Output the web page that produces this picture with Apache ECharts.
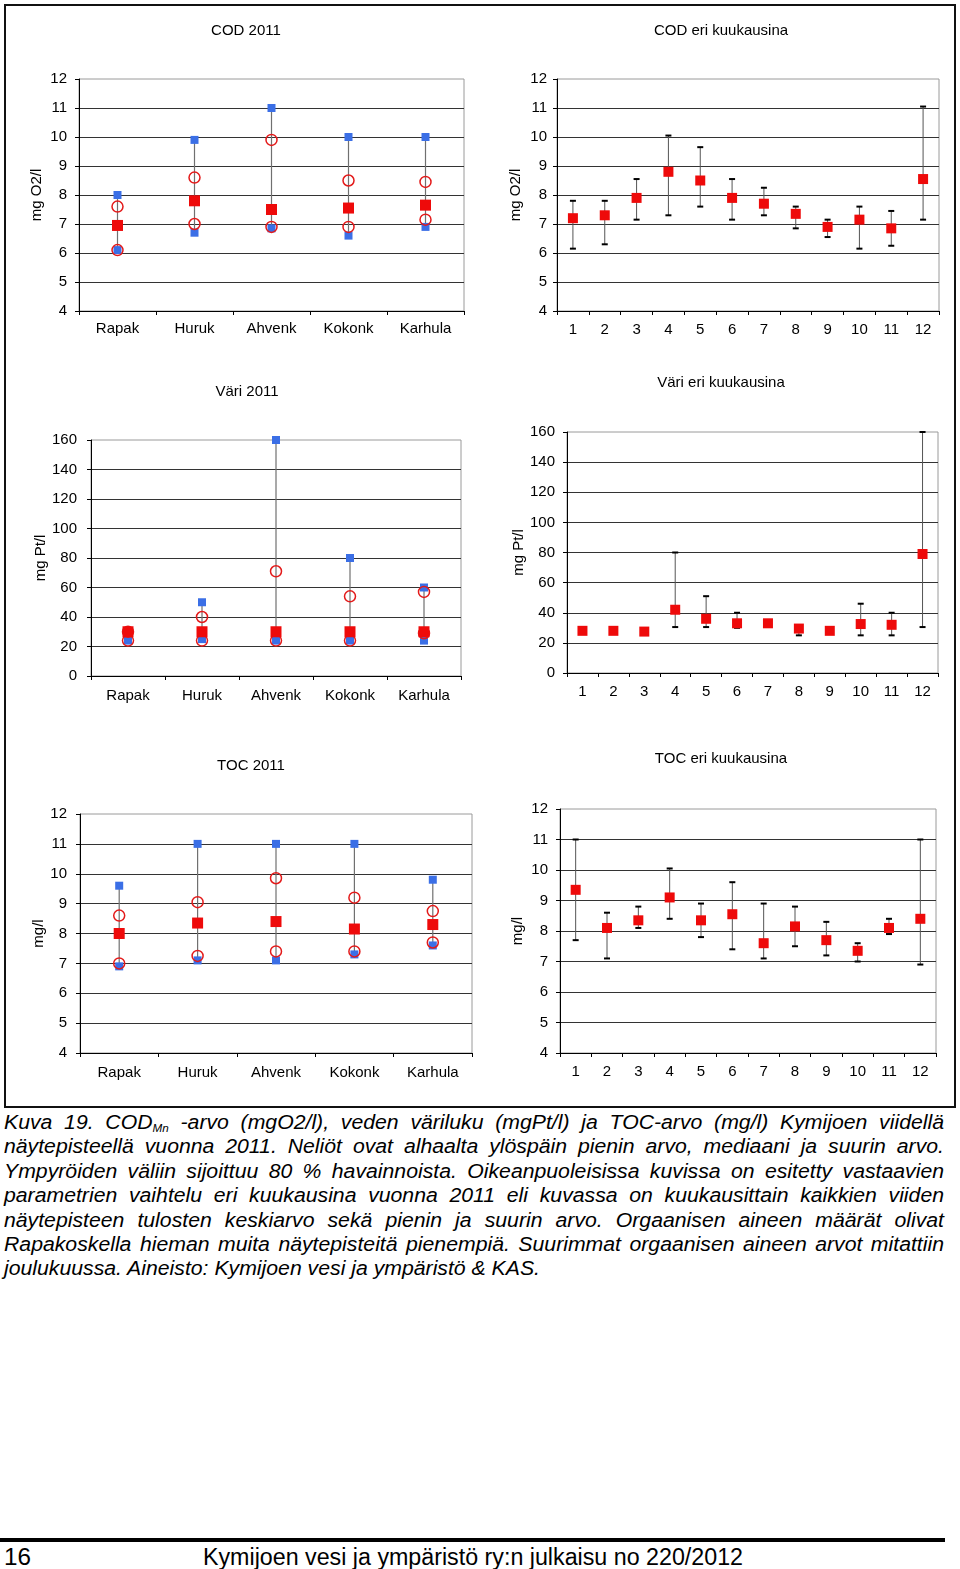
<!DOCTYPE html>
<html>
<head>
<meta charset="utf-8">
<script src="https://cdn.jsdelivr.net/npm/echarts@6/dist/echarts.min.js"></script>
<style>
  html, body { margin:0; padding:0; background:#fff; }
  body { width:960px; height:1569px; position:relative; overflow:hidden; }
  #frame { position:absolute; left:4px; top:4px; width:952px; height:1104px; border:2px solid #111; box-sizing:border-box; }
  #chart { position:absolute; left:0; top:0; width:960px; height:1110px; }
  .cap { position:absolute; left:4px; white-space:nowrap; font-family:'Liberation Sans', Arial, sans-serif; font-style:italic; font-size:20px; color:#000; transform-origin:0 50%; line-height:24px; }
  .cap sub { font-size:11px; vertical-align:-3px; }
  #rule { position:absolute; left:0; top:1538px; width:945px; height:4px; background:#000; }
  .foot { position:absolute; white-space:nowrap; font-family:'Liberation Sans', Arial, sans-serif; font-size:23px; color:#000; transform-origin:0 50%; line-height:28px; }
</style>
</head>
<body>
<div id="frame"></div>
<div id="chart"></div>
<div id="caption"></div>
<div id="rule"></div>
<div class="foot" id="pg" style="left:4px; top:1543px;">16</div>
<div class="foot" id="ft" style="left:203px; top:1543px;">Kymijoen vesi ja ympäristö ry:n julkaisu no 220/2012</div>
<script>
// ---------------- DATA ----------------
const stations = ['Rapak', 'Huruk', 'Ahvenk', 'Kokonk', 'Karhula'];
const months = ['1','2','3','4','5','6','7','8','9','10','11','12'];

// COD 2011 by station (mg O2/l)
const codMin    = [6.1, 6.7, 6.85, 6.6, 6.9];
const codP10    = [6.1, 7.0, 6.9, 6.9, 7.15];
const codMedian = [6.95, 7.8, 7.5, 7.55, 7.65];
const codP90    = [7.6, 8.6, 9.9, 8.5, 8.45];
const codMax    = [8.0, 9.9, 11.0, 10.0, 10.0];

// COD by month
const codMonthMean = [7.2, 7.3, 7.9, 8.8, 8.5, 7.9, 7.7, 7.35, 6.9, 7.15, 6.85, 8.55];
const codMonthMin  = [6.15, 6.3, 7.15, 7.3, 7.6, 7.15, 7.3, 6.85, 6.55, 6.15, 6.25, 7.15];
const codMonthMax  = [7.8, 7.8, 8.55, 10.05, 9.65, 8.55, 8.25, 7.6, 7.15, 7.6, 7.45, 11.05];

// Väri 2011 by station (mg Pt/l)
const variMin    = [24, 25, 24, 24, 24];
const variP10    = [24, 24, 24, 24, 29];
const variMedian = [30, 30, 30, 30, 30];
const variP90    = [30, 40, 71, 54, 57];
const variMax    = [30, 50, 160, 80, 60];

// Väri by month
const variMonthMean = [28, 28, 27.5, 42, 36, 33, 33, 29.5, 28, 32.5, 32, 79];
const variMonthMin  = [27, 27, 27, 30.5, 30.5, 30, 31, 25, 27, 25, 25, 30.5];
const variMonthMax  = [29, 29, 28, 80, 51, 40, 35, 31, 29, 46, 40, 160];

// TOC 2011 by station (mg/l)
const tocMin    = [6.9, 7.1, 7.1, 7.3, 7.6];
const tocP10    = [7.0, 7.25, 7.4, 7.4, 7.7];
const tocMedian = [8.0, 8.35, 8.4, 8.15, 8.3];
const tocP90    = [8.6, 9.05, 9.85, 9.2, 8.75];
const tocMax    = [9.6, 11.0, 11.0, 11.0, 9.8];

// TOC by month
const tocMonthMean = [9.35, 8.1, 8.35, 9.1, 8.35, 8.55, 7.6, 8.15, 7.7, 7.35, 8.1, 8.4];
const tocMonthMin  = [7.7, 7.1, 8.1, 8.4, 7.8, 7.4, 7.1, 7.5, 7.2, 7.0, 7.9, 6.9];
const tocMonthMax  = [11.0, 8.6, 8.8, 10.05, 8.9, 9.6, 8.9, 8.8, 8.3, 7.6, 8.4, 11.0];

const titles = ['COD 2011', 'COD eri kuukausina', 'Väri 2011', 'Väri eri kuukausina', 'TOC 2011', 'TOC eri kuukausina'];
const yNames = ['mg O2/l', 'mg O2/l', 'mg Pt/l', 'mg Pt/l', 'mg/l', 'mg/l'];

// ---------------- LAYOUT ----------------
const FONT = "'Liberation Sans', Arial, sans-serif";
const BLUE = '#3b6fe6';
const RED = '#ee0a0a';
const grids = [
  {left:79,  top:79,  width:385, height:232},
  {left:557, top:79,  width:382, height:232},
  {left:91,  top:440, width:370, height:236},
  {left:567, top:432, width:371, height:241},
  {left:80,  top:814, width:392, height:239},
  {left:560, top:809, width:376, height:244}
];
const titlePos = [[246,31],[721,31],[247,392],[721,383],[251,766],[721,759]];
const yScale = [[4,12,1],[4,12,1],[0,160,20],[0,160,20],[4,12,1],[4,12,1]];
const nameGaps = [35, 34, 40, 41, 34, 35];
const yLabelMargins = [12, 10, 14, 12, 13, 12];
const xLabelMargins = [10, 11, 12, 11, 12, 11];

const option = {
  animation:false,
  textStyle:{fontFamily:FONT},
  grid: grids.map(g => Object.assign({show:true, borderColor:'#9a9a9a', borderWidth:1, backgroundColor:'#fff', containLabel:false}, g)),
  xAxis: grids.map((g,i) => ({
    type:'category', gridIndex:i,
    data: (i % 2 === 0) ? stations : months,
    boundaryGap:true,
    axisLine:{show:true, onZero:false, lineStyle:{color:'#000', width:1}},
    axisTick:{show:true, length:4, interval:0, alignWithLabel:false, lineStyle:{color:'#000'}},
    axisLabel:{color:'#000', fontSize:15, margin:xLabelMargins[i], interval:0, fontFamily:FONT},
    splitLine:{show:false}
  })),
  yAxis: grids.map((g,i) => ({
    type:'value', gridIndex:i,
    min:yScale[i][0], max:yScale[i][1], interval:yScale[i][2],
    name:yNames[i], nameLocation:'middle', nameGap:nameGaps[i],
    nameTextStyle:{color:'#000', fontSize:15, fontFamily:FONT},
    axisLine:{show:true, onZero:false, lineStyle:{color:'#000', width:1}},
    axisTick:{show:true, length:4, lineStyle:{color:'#000'}},
    axisLabel:{color:'#000', fontSize:15, margin:yLabelMargins[i], fontFamily:FONT},
    splitLine:{show:true, showMinLine:false, showMaxLine:false, lineStyle:{color:'#333', width:1}}
  })),
  graphic: titles.map((t,i) => ({
    type:'text', x:titlePos[i][0], y:titlePos[i][1],
    style:{text:t, font:'15px ' + FONT, fill:'#000', textAlign:'center', textVerticalAlign:'middle'}
  })),
  series: []
};

function rangeSeries(gi, lo, hi) {
  return {
    type:'custom', xAxisIndex:gi, yAxisIndex:gi, silent:true, z:2,
    encode:{x:0, y:[1,2]},
    data: lo.map((v,i) => [i, v, hi[i]]),
    renderItem: (params, api) => {
      const x = api.value(0);
      const a = api.coord([x, api.value(1)]);
      const b = api.coord([x, api.value(2)]);
      return {type:'line', shape:{x1:a[0], y1:a[1], x2:b[0], y2:b[1]}, style:{stroke:'#707070', lineWidth:1.2}};
    }
  };
}
function errorSeries(gi, lo, hi) {
  return {
    type:'custom', xAxisIndex:gi, yAxisIndex:gi, silent:true, z:2,
    encode:{x:0, y:[1,2]},
    data: lo.map((v,i) => [i, v, hi[i]]),
    renderItem: (params, api) => {
      const x = api.value(0);
      const a = api.coord([x, api.value(1)]);
      const b = api.coord([x, api.value(2)]);
      const w = 3;
      return {type:'group', children:[
        {type:'line', shape:{x1:a[0], y1:a[1], x2:b[0], y2:b[1]}, style:{stroke:'#555', lineWidth:1}},
        {type:'line', shape:{x1:a[0]-w, y1:a[1], x2:a[0]+w, y2:a[1]}, style:{stroke:'#000', lineWidth:2}},
        {type:'line', shape:{x1:b[0]-w, y1:b[1], x2:b[0]+w, y2:b[1]}, style:{stroke:'#000', lineWidth:2}}
      ]};
    }
  };
}
function pts(arr) { return arr.map((v,i) => [i, v]); }
function squareSeries(gi, arr, color, size, z) {
  return {type:'scatter', xAxisIndex:gi, yAxisIndex:gi, silent:true, z:z,
    symbol:'rect', symbolSize:size, itemStyle:{color:color, opacity:1}, data:pts(arr)};
}
function circleSeries(gi, arr) {
  return {type:'scatter', xAxisIndex:gi, yAxisIndex:gi, silent:true, z:4,
    symbol:'circle', symbolSize:11,
    itemStyle:{color:'rgba(0,0,0,0)', borderColor:'#e31a1a', borderWidth:1.5, opacity:1}, data:pts(arr)};
}
function stationChart(gi, mn, p10, med, p90, mx) {
  option.series.push(rangeSeries(gi, mn, mx));
  option.series.push(squareSeries(gi, mn, BLUE, 8, 3));
  option.series.push(squareSeries(gi, mx, BLUE, 8, 3));
  option.series.push(circleSeries(gi, p10));
  option.series.push(circleSeries(gi, p90));
  option.series.push(squareSeries(gi, med, RED, 11, 5));
}
function monthChart(gi, mean, mn, mx) {
  option.series.push(errorSeries(gi, mn, mx));
  option.series.push(squareSeries(gi, mean, RED, 10, 5));
}
stationChart(0, codMin, codP10, codMedian, codP90, codMax);
monthChart(1, codMonthMean, codMonthMin, codMonthMax);
stationChart(2, variMin, variP10, variMedian, variP90, variMax);
monthChart(3, variMonthMean, variMonthMin, variMonthMax);
stationChart(4, tocMin, tocP10, tocMedian, tocP90, tocMax);
monthChart(5, tocMonthMean, tocMonthMin, tocMonthMax);

const chart = echarts.init(document.getElementById('chart'), null, {renderer:'canvas'});
chart.setOption(option);

// ---------------- CAPTION ----------------
const capLines = [
  'Kuva 19. COD<sub>Mn</sub> -arvo (mgO2/l), veden väriluku (mgPt/l) ja TOC-arvo (mg/l) Kymijoen viidellä',
  'näytepisteellä vuonna 2011. Neliöt ovat alhaalta ylöspäin pienin arvo, mediaani ja suurin arvo.',
  'Ympyröiden väliin sijoittuu 80 % havainnoista. Oikeanpuoleisissa kuvissa on esitetty vastaavien',
  'parametrien vaihtelu eri kuukausina vuonna 2011 eli kuvassa on kuukausittain kaikkien viiden',
  'näytepisteen tulosten keskiarvo sekä pienin ja suurin arvo. Orgaanisen aineen määrät olivat',
  'Rapakoskella hieman muita näytepisteitä pienempiä. Suurimmat orgaanisen aineen arvot mitattiin',
  'joulukuussa. Aineisto: Kymijoen vesi ja ympäristö & KAS.'
];
const capEl = document.getElementById('caption');
const lineEls = capLines.map((html, i) => {
  const d = document.createElement('div');
  d.className = 'cap';
  d.style.top = (1110 + i * 24.4) + 'px';
  d.innerHTML = html;
  capEl.appendChild(d);
  return d;
});
const widths = lineEls.map(d => d.getBoundingClientRect().width);
const s = 536 / widths[widths.length - 1];
lineEls.forEach((d, i) => {
  if (i < lineEls.length - 1) {
    const nSpaces = (d.textContent.match(/ /g) || []).length;
    const extra = (940 / s - widths[i]) / nSpaces;
    d.style.wordSpacing = extra + 'px';
  }
  d.style.transform = 'scaleX(' + s + ')';
});
// footer fit
const ft = document.getElementById('ft');
const fw = ft.getBoundingClientRect().width;
ft.style.transform = 'scaleX(' + (540 / fw) + ')';
const pg = document.getElementById('pg');
const pw = pg.getBoundingClientRect().width;
pg.style.transform = 'scaleX(' + (27 / pw) + ')';
</script>
</body>
</html>
